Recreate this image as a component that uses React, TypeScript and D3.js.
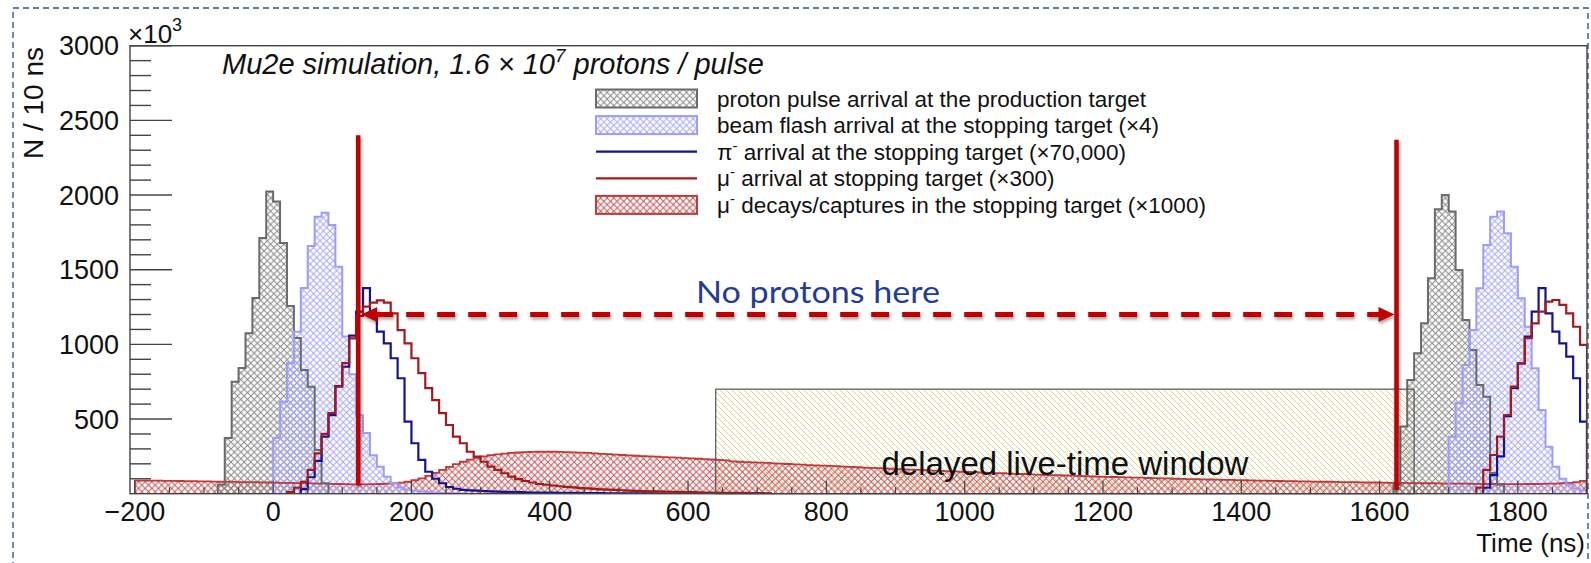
import React, { useEffect } from "react";
import * as d3 from "d3";

const WIDTH = 1591;
const HEIGHT = 563;
const BIN_NS = 10;

// proton pulse arrival at the production target (two pulses)
const protonStartA = -80;
const protonCountsA = [60, 373, 750, 842, 1075, 1310, 1712, 2023, 1956, 1679, 1257, 1043, 829, 717, 293, 70];
const protonStartB = 1620;
const protonCountsB = [60, 450, 762, 940, 1141, 1443, 1905, 2000, 1889, 1498, 1163, 962, 728, 650, 138, 60];

// beam flash at the stopping target (x4)
const flashStartA = 0;
const flashCountsA = [373, 616, 875, 1085, 1377, 1659, 1855, 1882, 1800, 1520, 1052, 800, 526, 407, 258, 181, 114, 70, 42, 28, 20, 15, 11, 8, 6, 4, 3, 2];
const flashStartB = 1700;
const flashCountsB = [382, 607, 862, 1096, 1376, 1666, 1855, 1889, 1744, 1520, 1309, 1118, 840, 560, 315, 181, 100, 60, 35, 22];

// pi- at the stopping target (x70,000)
const pionStartA = 40;
const pionCountsA = [30, 110, 220, 382, 526, 720, 850, 1058, 1219, 1376, 1186, 1085, 1007, 907, 773, 482, 338, 226, 147, 100, 70, 45, 33, 25, 22, 20, 18, 16, 14, 12, 11, 10, 9, 8, 8, 7, 7, 6, 6, 5, 5, 4, 4, 4, 3, 3, 3, 2, 2, 2, 2, 1, 1, 1, 1, 1];
const pionStartB = 1750;
const pionCountsB = [40, 125, 250, 520, 706, 873, 1052, 1219, 1376, 1208, 1085, 1007, 918, 773, 482];

// mu- arrival at the stopping target (x300)
const muonStartA = 20;
const muonCountsA = [10, 40, 80, 159, 270, 400, 540, 717, 875, 1040, 1190, 1253, 1280, 1295, 1280, 1208, 1096, 1007, 907, 807, 707, 626, 540, 460, 382, 338, 281, 248, 214, 181, 159, 137, 114, 98, 85, 75, 65, 60, 55, 50, 46, 42, 38, 35, 32, 29, 27, 25, 23, 21, 19, 18, 16, 15, 14, 13, 12, 11, 10, 9, 8, 8, 7, 6, 6, 5, 5, 4, 4, 3];
const muonStartB = 1740;
const muonCountsB = [40, 159, 259, 382, 527, 717, 873, 1041, 1141, 1219, 1286, 1297, 1264, 1208, 1118, 996];

// mu- decays/captures in the stopping target (x1000), -200 .. 1900 ns
const decayStart = -200;
const decayCounts = [
  88, 88, 87, 87, 86, 86, 85, 84, 84, 83,
  82, 81, 80, 80, 79, 78, 78, 77, 76, 75,
  74, 73, 72, 71, 70, 69, 68, 67, 66, 65,
  64, 63, 63, 63, 64, 65, 67, 70, 74, 80, // 100 .. 190
  90, 103, 120, 140, 160, 180, 198, 214, 228, 240,
  250, 258, 264, 269, 273, 276, 278, 280, 281, 281,
  281, 280, 279, 277, 275, 273, 270, 267, 265, 262,
  259, 257, 254, 252, 250, 248, 245, 243, 241, 238,
  236, 234, 231, 229, 226, 223, 216, 214, 212, 210, // 580 .. 670
  208, 206, 203, 201, 199, 197, 195, 192, 190, 188,
  186, 184, 181, 179, 177, 175, 173, 171, 169, 167,
  165, 163, 161, 159, 157, 155, 153, 151, 149, 147,
  146, 144, 142, 140, 138, 137, 135, 133, 132, 130,
  128, 127, 125, 124, 122, 121, 119, 118, 116, 115,
  113, 112, 111, 109, 108, 107, 105, 104, 103, 102,
  100, 99, 98, 97, 96, 95, 94, 93, 92, 91,
  90, 89, 88, 87, 86, 85, 84, 84, 83, 82,
  81, 80, 80, 79, 78, 77, 77, 76, 75, 75, // 1480 .. 1570
  74, 73, 73, 72, 71, 71, 70, 70, 69, 68,
  68, 67, 67, 66, 66, 65, 65, 65, 64, 64,
  64, 65, 65, 66, 67, 68, 70, 73, 78, 86, // 1780 .. 1870
  97, 112, 125,
];

// annotations (data units: ns and N/10ns x 10^3)
const windowStart = 640;
const windowEnd = 1650;
const windowHeight = 700;
const cutLines = [
  { t: 123, top: 2400, bottom: 55 },
  { t: 1624.5, top: 2370, bottom: 25 },
];
const arrowLevel = 1200;

const xTicks = [-200, 0, 200, 400, 600, 800, 1000, 1200, 1400, 1600, 1800];
const yTicks = [500, 1000, 1500, 2000, 2500, 3000];

const legendNames = [
  "proton pulse arrival at the production target",
  "beam flash arrival at the stopping target (×4)",
  "π",
  "μ",
  "μ",
];
const legendTails = [
  "",
  "",
  " arrival at the stopping target (×70,000)",
  " arrival at stopping target (×300)",
  " decays/captures in the stopping target (×1000)",
];
const legendKinds = ["grey", "flash", "pion", "muon", "decay"];

const x = d3.scaleLinear().domain([-207, 1900]).range([130, 1587]);
const y = d3.scaleLinear().domain([0, 3000]).range([493.7, 45.7]);

const STYLE: Record<string, { stroke: string; fill: string; width: number }> = {
  grey: { stroke: "#6a6a6a", fill: "url(#hatchGrey)", width: 2 },
  flash: { stroke: "#9c9cff", fill: "url(#hatchBlue)", width: 2 },
  pion: { stroke: "#13139a", fill: "none", width: 2.2 },
  muon: { stroke: "#a81818", fill: "none", width: 2.2 },
  decay: { stroke: "#bf3a3a", fill: "url(#hatchRed)", width: 1.8 },
};

const stepPath = (start: number, counts: number[]): string => {
  const pts: [number, number][] = [[start, 0]];
  counts.forEach((c, i) => pts.push([start + i * BIN_NS, c]));
  pts.push([start + counts.length * BIN_NS, 0]);
  return (
    d3
      .line<[number, number]>()
      .x((d) => x(d[0]))
      .y((d) => y(d[1]))
      .curve(d3.curveStepAfter)(pts) || ""
  );
};

const FONT = "'Liberation Sans', Arial, Helvetica, sans-serif";

const Histo = ({ kind, start, counts, part }: { kind: string; start: number; counts: number[]; part: "fill" | "line" }) => {
  const s = STYLE[kind];
  const d = stepPath(start, counts);
  if (part === "fill") {
    return s.fill === "none" ? null : <path d={d} fill={s.fill} stroke="none" />;
  }
  return <path d={d} fill="none" stroke={s.stroke} strokeWidth={s.width} strokeLinejoin="miter" />;
};

const App: React.FC = () => {
  useEffect(() => {
    document.body.style.margin = "0";
  }, []);

  const x0 = x.range()[0];
  const x1 = x.range()[1];
  const yb = y.range()[0];
  const yt = y.range()[1];

  const yMinor = d3.range(100, 3000, 100).filter((v) => v % 500 !== 0);
  const xMinor = d3.range(-200, 1901, 50).filter((v) => v % 200 !== 0);

  const fills: [string, number, number[]][] = [
    ["decay", decayStart, decayCounts],
    ["grey", protonStartA, protonCountsA],
    ["grey", protonStartB, protonCountsB],
    ["flash", flashStartA, flashCountsA],
    ["flash", flashStartB, flashCountsB],
  ];
  const lines: [string, number, number[]][] = [
    ...fills,
    ["pion", pionStartA, pionCountsA],
    ["pion", pionStartB, pionCountsB],
    ["muon", muonStartA, muonCountsA],
    ["muon", muonStartB, muonCountsB],
  ];

  const arrowY = y(arrowLevel);
  const ax0 = x(cutLines[0].t) + 3;
  const ax1 = x(cutLines[1].t) - 2;

  return (
    <div style={{ position: "absolute", left: 0, top: 0 }}>
      <svg width={WIDTH} height={HEIGHT} style={{ display: "block", background: "#fff" }}>
        <defs>
          <pattern id="hatchGrey" patternUnits="userSpaceOnUse" width={6.6} height={6.6}>
            <path d="M0,0L6.6,6.6M6.6,0L0,6.6" stroke="#858585" strokeWidth={1} />
          </pattern>
          <pattern id="hatchBlue" patternUnits="userSpaceOnUse" width={6.6} height={6.6}>
            <path d="M0,0L6.6,6.6M6.6,0L0,6.6" stroke="#a4a4ff" strokeWidth={1} />
          </pattern>
          <pattern id="hatchRed" patternUnits="userSpaceOnUse" width={6.6} height={6.6}>
            <path d="M0,0L6.6,6.6M6.6,0L0,6.6" stroke="#c85050" strokeWidth={1} />
          </pattern>
          <pattern id="hatchYellow" patternUnits="userSpaceOnUse" width={6} height={6}>
            <path d="M0,0L6,6M-1,5L1,7M5,-1L7,1" stroke="#d5d58c" strokeWidth={1} />
          </pattern>
          <clipPath id="frameClip">
            <rect x={x0} y={yt} width={x1 - x0} height={yb - yt} />
          </clipPath>
          <filter id="shadow" x="-5%" y="-50%" width="110%" height="200%">
            <feDropShadow dx={1} dy={2.5} stdDeviation={1.5} floodColor="#000" floodOpacity={0.35} />
          </filter>
        </defs>

        {/* slide border */}
        <rect x={13} y={8} width={1575} height={600} fill="none" stroke="#2f5597" strokeWidth={1.4} strokeDasharray="6 4" />

        {/* live-time window */}
        <rect
          x={x(windowStart)}
          y={y(windowHeight)}
          width={x(windowEnd) - x(windowStart)}
          height={yb - y(windowHeight)}
          fill="url(#hatchYellow)"
        />

        <g clipPath="url(#frameClip)">
          {fills.map(([k, s, c], i) => (
            <Histo key={"f" + i} kind={k} start={s} counts={c} part="fill" />
          ))}
          {lines.map(([k, s, c], i) => (
            <Histo key={"l" + i} kind={k} start={s} counts={c} part="line" />
          ))}
        </g>

        <rect
          x={x(windowStart)}
          y={y(windowHeight)}
          width={x(windowEnd) - x(windowStart)}
          height={yb - y(windowHeight)}
          fill="none"
          stroke="#555"
          strokeWidth={1.2}
        />

        {/* frame and axes */}
        <rect x={x0} y={yt} width={x1 - x0} height={yb - yt} fill="none" stroke="#444" strokeWidth={1.4} />
        {yTicks.map((v) => (
          <g key={"yt" + v}>
            <line x1={x0} x2={x0 + 42} y1={y(v)} y2={y(v)} stroke="#444" strokeWidth={1.4} />
            <text x={119} y={y(v) + 9.5} textAnchor="end" fontFamily={FONT} fontSize={27} fill="#111">
              {v}
            </text>
          </g>
        ))}
        {yMinor.map((v) => (
          <line key={"ym" + v} x1={x0} x2={x0 + 21} y1={y(v)} y2={y(v)} stroke="#444" strokeWidth={1.4} />
        ))}
        {xTicks.map((v) => (
          <g key={"xt" + v}>
            <line x1={x(v)} x2={x(v)} y1={yb} y2={yb - 13} stroke="#444" strokeWidth={1.2} />
            <text x={x(v)} y={521} textAnchor="middle" fontFamily={FONT} fontSize={27} fill="#111">
              {v < 0 ? "\u2212" + Math.abs(v) : v}
            </text>
          </g>
        ))}
        {xMinor.map((v) => (
          <line key={"xm" + v} x1={x(v)} x2={x(v)} y1={yb} y2={yb - 6.5} stroke="#444" strokeWidth={1.2} />
        ))}

        <text x={128} y={43} fontFamily={FONT} fontSize={26} fill="#111">
          ×10
          <tspan fontSize={18} dy={-12}>3</tspan>
        </text>
        <text transform="translate(43,47) rotate(-90)" textAnchor="end" fontFamily={FONT} fontSize={28} fill="#111">
          N / 10 ns
        </text>
        <text x={1585} y={552} textAnchor="end" fontFamily={FONT} fontSize={26} fill="#111">
          Time (ns)
        </text>

        <text x={222} y={74} fontFamily={FONT} fontSize={29} fontStyle="italic" fill="#111">
          Mu2e simulation, 1.6 × 10
          <tspan fontSize={19} dy={-12}>7</tspan>
          <tspan dy={12}> protons / pulse</tspan>
        </text>

        {/* legend */}
        {legendNames.map((name, i) => {
          const cy = 98.5 + i * 26.6;
          const kind = legendKinds[i];
          const s = STYLE[kind];
          return (
            <g key={"lg" + i}>
              {s.fill === "none" ? (
                <line x1={596} x2={697} y1={cy} y2={cy} stroke={s.stroke} strokeWidth={2.2} />
              ) : (
                <rect x={596} y={cy - 9} width={101} height={18} fill={s.fill} stroke={s.stroke} strokeWidth={2} />
              )}
              <text x={717} y={cy + 8} fontFamily={FONT} fontSize={22.5} fill="#111">
                {name}
                {legendTails[i] ? (
                  <>
                    <tspan fontSize={15} dy={-9}>-</tspan>
                    <tspan dy={9}>{legendTails[i]}</tspan>
                  </>
                ) : null}
              </text>
            </g>
          );
        })}

        <text
          x={(x(windowStart) + x(windowEnd)) / 2}
          y={475}
          textAnchor="middle"
          fontFamily={FONT}
          fontSize={33}
          fill="#111"
        >
          delayed live-time window
        </text>

        {/* annotations */}
        <g filter="url(#shadow)">
          {cutLines.map((c, i) => (
            <line key={"cut" + i} x1={x(c.t)} x2={x(c.t)} y1={y(c.top)} y2={y(c.bottom)} stroke="#c00000" strokeWidth={4.5} />
          ))}
          <line x1={ax0 + 14} x2={ax1 - 14} y1={arrowY} y2={arrowY} stroke="#c00000" strokeWidth={5} strokeDasharray="18 13" />
          <path d={`M${ax0},${arrowY}L${ax0 + 16},${arrowY - 7.5}L${ax0 + 16},${arrowY + 7.5}Z`} fill="#c00000" />
          <path d={`M${ax1},${arrowY}L${ax1 - 16},${arrowY - 7.5}L${ax1 - 16},${arrowY + 7.5}Z`} fill="#c00000" />
        </g>
        <text x={696} y={303} fontFamily="Lato, 'Open Sans', sans-serif" fontSize={31} fill="#1f3c99" textLength={244} lengthAdjust="spacingAndGlyphs">
          No protons here
        </text>
      </svg>
    </div>
  );
};

export default App;
